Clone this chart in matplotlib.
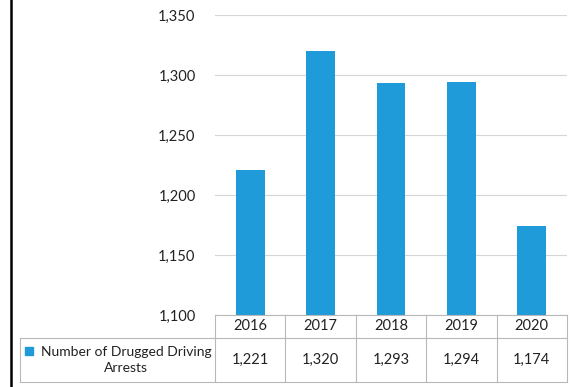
import matplotlib.pyplot as plt
from matplotlib.transforms import blended_transform_factory
from matplotlib.lines import Line2D
from matplotlib.patches import Rectangle

years = ["2016", "2017", "2018", "2019", "2020"]
arrests = [1221, 1320, 1293, 1294, 1174]
series_name = "Number of Drugged Driving\nArrests"
yticks = [1100, 1150, 1200, 1250, 1300, 1350]

W, H = 573, 387
blue = "#1f9bd9"
grid = "#d6d6d6"
plt.rcParams['font.family'] = ['Lato', 'DejaVu Sans']

fig = plt.figure(figsize=(W / 100, H / 100), dpi=100)
# plot area in pixels: x 215..567, y 15..315
ax = fig.add_axes([215 / W, (H - 315) / H, 352 / W, 300 / H])

x = list(range(len(years)))
ax.bar(x, arrests, width=0.41, color=blue, zorder=3)
ax.set_xlim(-0.5, len(years) - 0.5)
ax.set_ylim(yticks[0], yticks[-1])
ax.set_yticks(yticks)
ax.set_yticklabels([f"{v:,}" for v in yticks], fontsize=10.5, color="#222222")
ax.tick_params(axis="y", length=0, pad=14)
ax.set_xticks([])
ax.grid(axis="y", color=grid, lw=0.8, zorder=0)
for s in ax.spines.values():
    s.set_visible(False)


def fx(px):
    return px / W


def fy(py):
    return (H - py) / H


# data table under the plot
tcol = "#b8b8b8"
edges_px = [215 + 352 * i / len(years) for i in range(len(years) + 1)]
row0, row1, row2 = 315, 338, 382
for e in edges_px:
    fig.add_artist(Line2D([fx(e), fx(e)], [fy(row0), fy(row2)], color=tcol, lw=0.8))
fig.add_artist(Line2D([fx(215), fx(567)], [fy(row0), fy(row0)], color=tcol, lw=0.8))
fig.add_artist(Line2D([fx(20), fx(567)], [fy(row1), fy(row1)], color=tcol, lw=0.8))
fig.add_artist(Line2D([fx(20), fx(567)], [fy(row2), fy(row2)], color=tcol, lw=0.8))
fig.add_artist(Line2D([fx(20), fx(20)], [fy(row1), fy(row2)], color=tcol, lw=0.8))

trans = blended_transform_factory(ax.transData, fig.transFigure)
for i, (yr, v) in enumerate(zip(years, arrests)):
    fig.text(i, fy((row0 + row1) / 2), yr, transform=trans, ha="center",
             va="center", fontsize=10.5, color="#222222")
    fig.text(i, fy((row1 + row2) / 2), f"{v:,}", transform=trans, ha="center",
             va="center", fontsize=10.5, color="#222222")

# legend key in table
fig.add_artist(Rectangle((fx(25), fy(355)), 8 / W, 8 / H, color=blue,
                         transform=fig.transFigure))
fig.text(fx(126), fy((row1 + row2) / 2), series_name, ha="center", va="center",
         fontsize=10, color="#222222", linespacing=1.3)

# black border line on the left edge of the page
fig.add_artist(Line2D([fx(11), fx(11)], [0, 1], color="black", lw=1.8))

fig.savefig("out.png", dpi=100)
